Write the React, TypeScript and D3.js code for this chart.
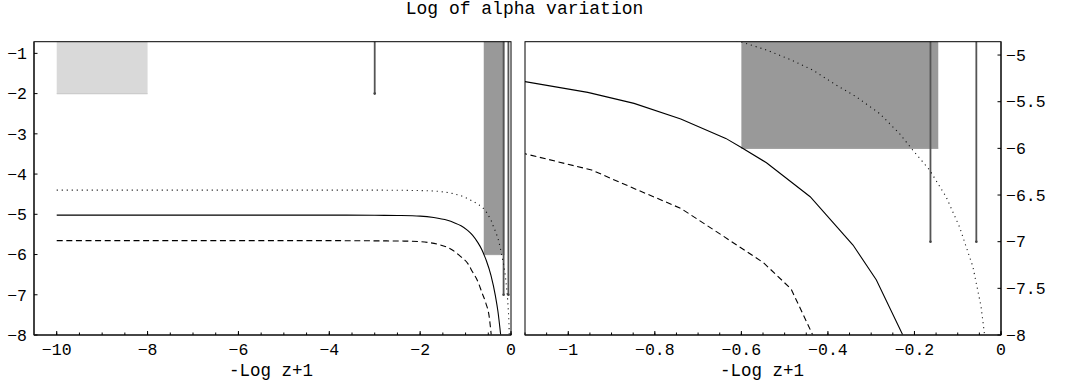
import React from "react";
import * as d3 from "d3";

const title = "Log of alpha variation";
const xLabel = "-Log z+1";

// solid curve
const solidX = [-10, -6, -4, -3, -2.5, -2, -1.7, -1.4, -1.25, -1.1, -0.955, -0.848, -0.74, -0.636, -0.6, -0.542, -0.441, -0.342, -0.288, -0.227];
const solidY = [-5.02, -5.02, -5.02, -5.025, -5.03, -5.045, -5.08, -5.15, -5.21, -5.285, -5.4, -5.518, -5.686, -5.893, -5.99, -6.154, -6.518, -7.036, -7.41, -8.0];
// dashed curve
const dashedX = [-10, -4, -3, -2.4, -2, -1.6, -1.3, -1.1, -0.946, -0.848, -0.74, -0.64, -0.549, -0.485, -0.435];
const dashedY = [-5.655, -5.655, -5.66, -5.665, -5.68, -5.75, -5.88, -6.058, -6.232, -6.43, -6.643, -6.946, -7.225, -7.507, -8.0];
// dotted curve
const dottedX = [-10, -3, -2, -1.6, -1.3, -1.05, -0.85, -0.7, -0.6, -0.542, -0.488, -0.435, -0.381, -0.335, -0.281, -0.235, -0.204, -0.165, -0.127, -0.096, -0.065, -0.046, -0.038];
const dottedY = [-4.4, -4.4, -4.41, -4.43, -4.48, -4.56, -4.67, -4.77, -4.86, -4.946, -5.046, -5.161, -5.321, -5.446, -5.625, -5.839, -6.018, -6.232, -6.518, -6.84, -7.268, -7.697, -8.0];

// shaded constraint boxes (extend upward out of the plot)
const boxX0 = [-10, -0.6];
const boxX1 = [-8, -0.145];
const boxYLow = [-2, -6];
const boxYHigh = [0, 0];
const boxFill = ["#d9d9d9", "#999999"];
const boxEdge = ["#cccccc", "#a3a3a3"];

// vertical constraint lines (from lower value upward)
const vlineX = [-3, -0.163, -0.057];
const vlineYLow = [-2, -7, -7];
const vlineYHigh = [0, 0, 0];

// ticks
const leftXTicks = [-10, -8, -6, -4, -2, 0];
const leftXMinor = d3.range(0, 21).map((i) => -10 + i * 0.5);
const leftYTicks = [-1, -2, -3, -4, -5, -6, -7, -8];
const rightXTicks = [-1, -0.8, -0.6, -0.4, -0.2, 0];
const rightXMinor = d3.range(0, 23).map((i) => +(-1.1 + i * 0.05).toFixed(2));
const rightYTicks = [-5, -5.5, -6, -6.5, -7, -7.5, -8];

const FONT = "'Liberation Mono', 'DejaVu Sans Mono', monospace";
const fmt = (v: number) => (v < 0 ? "\u2212" + String(Math.abs(v)) : String(v));

type PanelProps = {
  id: string;
  left: number;
  right: number;
  top: number;
  bottom: number;
  xDomain: [number, number];
  yDomain: [number, number];
  xTicks: number[];
  xMinor: number[];
  yTicks: number[];
  ySide: "left" | "right";
  smooth: boolean;
  labelX: number;
};

function Panel(p: PanelProps) {
  const x = d3.scaleLinear().domain(p.xDomain).range([p.left, p.right]);
  const y = d3.scaleLinear().domain(p.yDomain).range([p.bottom, p.top]);
  const mk = (xs: number[], ys: number[]) =>
    d3
      .line<number>()
      .x((_, i) => x(xs[i]))
      .y((_, i) => y(ys[i]))
      .curve(p.smooth ? d3.curveMonotoneX : d3.curveLinear)(xs) || "";
  const clip = `clip-${p.id}`;
  const axisX = p.ySide === "left" ? p.left : p.right;
  const dir = p.ySide === "left" ? 1 : -1;
  return (
    <g>
      <defs>
        <clipPath id={clip}>
          <rect x={p.left} y={p.top} width={p.right - p.left} height={p.bottom - p.top} />
        </clipPath>
      </defs>
      <g clipPath={`url(#${clip})`}>
        {boxX0.map((bx, i) => (
          <g key={"b" + i}>
            <rect
              x={x(bx)}
              y={y(boxYHigh[i])}
              width={x(boxX1[i]) - x(bx)}
              height={y(boxYLow[i]) - y(boxYHigh[i])}
              fill={boxFill[i]}
            />
            <line x1={x(bx)} x2={x(boxX1[i])} y1={y(boxYLow[i])} y2={y(boxYLow[i])} stroke={boxEdge[i]} strokeWidth={1.2} />
          </g>
        ))}
        {vlineX.map((vx, i) => (
          <g key={"v" + i}>
            <line x1={x(vx)} x2={x(vx)} y1={y(vlineYLow[i])} y2={y(vlineYHigh[i])} stroke="#555" strokeWidth={1.8} />
            <circle cx={x(vx)} cy={y(vlineYLow[i])} r={1.3} fill="#444" />
          </g>
        ))}
        <path d={mk(solidX, solidY)} fill="none" stroke="#000" strokeWidth={1.1} />
        <path d={mk(dashedX, dashedY)} fill="none" stroke="#000" strokeWidth={1.1} strokeDasharray="6,3.6" />
        <path d={mk(dottedX, dottedY)} fill="none" stroke="#111" strokeWidth={1.1} strokeDasharray="1.1,3.9" />
      </g>
      {/* frame */}
      <rect x={p.left} y={p.top} width={p.right - p.left} height={p.bottom - p.top} fill="none" stroke="#000" strokeWidth={1} />
      <line x1={p.left} x2={p.right} y1={p.bottom} y2={p.bottom} stroke="#333" strokeWidth={1.6} />
      <line x1={axisX} x2={axisX} y1={p.top} y2={p.bottom} stroke="#333" strokeWidth={1.6} />
      {/* x ticks */}
      {p.xMinor.map((t, i) => (
        <line key={"xm" + i} x1={x(t)} x2={x(t)} y1={p.bottom} y2={p.bottom - 2.5} stroke="#000" strokeWidth={1} />
      ))}
      {p.xTicks.map((t, i) => (
        <g key={"xt" + i}>
          <line x1={x(t)} x2={x(t)} y1={p.bottom} y2={p.bottom - 4} stroke="#000" strokeWidth={1} />
          <text x={x(t)} y={355} textAnchor="middle" fontFamily={FONT} fontSize={16.5} fill="#000">
            {fmt(t)}
          </text>
        </g>
      ))}
      {/* y ticks */}
      {p.yTicks.map((t, i) => (
        <g key={"yt" + i}>
          <line x1={axisX} x2={axisX + dir * 3.5} y1={y(t)} y2={y(t)} stroke="#000" strokeWidth={1} />
          <text
            x={p.ySide === "left" ? axisX - 7 : axisX + 5}
            y={y(t)}
            dy="0.35em"
            textAnchor={p.ySide === "left" ? "end" : "start"}
            fontFamily={FONT}
            fontSize={16.5}
            fill="#000"
          >
            {fmt(t)}
          </text>
        </g>
      ))}
      <text x={p.labelX} y={376} textAnchor="middle" fontFamily={FONT} fontSize={17.5} fill="#000">
        {xLabel}
      </text>
    </g>
  );
}

export default function App() {
  return (
    <svg
      width={1066}
      height={385}
      style={{ position: "absolute", left: 0, top: 0, background: "#fff" }}
    >
      <rect width={1066} height={385} fill="#fff" />
      <text x={524.5} y={14} textAnchor="middle" fontFamily={FONT} fontSize={18} fill="#000">
        {title}
      </text>
      <Panel
        id="l"
        left={34}
        right={511}
        top={41.7}
        bottom={335}
        xDomain={[-10.5, 0]}
        yDomain={[-8, -0.71]}
        xTicks={leftXTicks}
        xMinor={leftXMinor}
        yTicks={leftYTicks}
        ySide="left"
        smooth={true}
        labelX={271}
      />
      <Panel
        id="r"
        left={525}
        right={1001}
        top={41.7}
        bottom={335}
        xDomain={[-1.1, 0]}
        yDomain={[-8, -4.857]}
        xTicks={rightXTicks}
        xMinor={rightXMinor}
        yTicks={rightYTicks}
        ySide="right"
        smooth={false}
        labelX={762}
      />
    </svg>
  );
}
